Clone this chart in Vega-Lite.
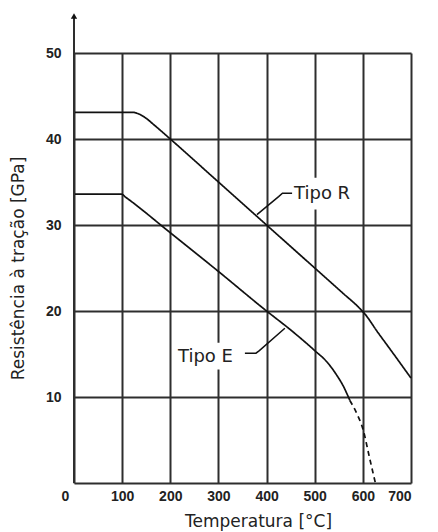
{
  "$schema": "https://vega.github.io/schema/vega-lite/v6.json",
  "width": 337,
  "height": 430,
  "autosize": {"type": "none"},
  "padding": {"left": 74, "top": 53, "right": 27, "bottom": 49},
  "background": "white",
  "config": {"view": {"stroke": null}, "font": "DejaVu Sans"},
  "datasets": {
    "curves": [
      {"serie": "R", "seg": "solid", "temp": 0, "val": 43.1},
      {"serie": "R", "seg": "solid", "temp": 122, "val": 43.1},
      {"serie": "R", "seg": "solid", "temp": 135, "val": 42.9},
      {"serie": "R", "seg": "solid", "temp": 150, "val": 42.4},
      {"serie": "R", "seg": "solid", "temp": 165, "val": 41.7},
      {"serie": "R", "seg": "solid", "temp": 200, "val": 40},
      {"serie": "R", "seg": "solid", "temp": 300, "val": 35},
      {"serie": "R", "seg": "solid", "temp": 400, "val": 30},
      {"serie": "R", "seg": "solid", "temp": 500, "val": 25},
      {"serie": "R", "seg": "solid", "temp": 560, "val": 22},
      {"serie": "R", "seg": "solid", "temp": 590, "val": 20.5},
      {"serie": "R", "seg": "solid", "temp": 605, "val": 19.6},
      {"serie": "R", "seg": "solid", "temp": 630, "val": 17.6},
      {"serie": "R", "seg": "solid", "temp": 660, "val": 15.3},
      {"serie": "R", "seg": "solid", "temp": 700, "val": 12.2},
      {"serie": "E", "seg": "solid", "temp": 0, "val": 33.6},
      {"serie": "E", "seg": "solid", "temp": 98, "val": 33.6},
      {"serie": "E", "seg": "solid", "temp": 108, "val": 33.2},
      {"serie": "E", "seg": "solid", "temp": 200, "val": 29.1},
      {"serie": "E", "seg": "solid", "temp": 300, "val": 24.6},
      {"serie": "E", "seg": "solid", "temp": 400, "val": 20},
      {"serie": "E", "seg": "solid", "temp": 450, "val": 17.8},
      {"serie": "E", "seg": "solid", "temp": 500, "val": 15.4},
      {"serie": "E", "seg": "solid", "temp": 525, "val": 14.1},
      {"serie": "E", "seg": "solid", "temp": 545, "val": 12.6},
      {"serie": "E", "seg": "solid", "temp": 560, "val": 11.2},
      {"serie": "E", "seg": "solid", "temp": 573, "val": 9.6},
      {"serie": "Ed", "seg": "dashed", "temp": 573, "val": 9.6},
      {"serie": "Ed", "seg": "dashed", "temp": 588, "val": 8.0},
      {"serie": "Ed", "seg": "dashed", "temp": 600, "val": 6.3},
      {"serie": "Ed", "seg": "dashed", "temp": 614, "val": 2.9},
      {"serie": "Ed", "seg": "dashed", "temp": 626, "val": 0}
    ],
    "leaders": [
      {"lab": "R", "temp": 453, "val": 33.7},
      {"lab": "R", "temp": 433, "val": 33.7},
      {"lab": "R", "temp": 425, "val": 33.3},
      {"lab": "R", "temp": 380, "val": 31.2},
      {"lab": "E", "temp": 355, "val": 15.1},
      {"lab": "E", "temp": 378, "val": 15.1},
      {"lab": "E", "temp": 385, "val": 15.4},
      {"lab": "E", "temp": 438, "val": 18.0}
    ],
    "labels": [
      {"text": "Tipo R", "temp": 457, "val": 33.6, "temp2": 452, "tempEnd": 582, "lo": 31.8, "hi": 35.5},
      {"text": "Tipo E", "temp": 216, "val": 14.65, "temp2": 211, "tempEnd": 340, "lo": 13.2, "hi": 16.3}
    ],
    "axisline": [
      {"temp": 0, "val": 0, "top": 54.3}
    ]
  },
  "layer": [
    {
      "data": {"name": "labels"},
      "mark": {"type": "rect", "fill": "white", "stroke": null},
      "encoding": {
        "x": {
          "field": "temp2", "type": "quantitative",
          "scale": {"domain": [0, 700], "nice": false, "zero": false},
          "axis": {
            "title": "Temperatura [°C]",
            "values": [0, 100, 200, 300, 400, 500, 600, 700],
            "grid": true, "gridColor": "#2e2e2e", "gridWidth": 2,
            "domain": true, "domainColor": "#2e2e2e", "domainWidth": 2,
            "ticks": false,
            "labelFont": "Liberation Sans", "labelFontSize": 14, "labelFontWeight": "bold",
            "labelColor": "#222", "labelPadding": 6,
            "labelOffset": {"condition": {"test": "datum.value == 0", "value": -13}, "value": 0},
            "titleFont": "DejaVu Sans", "titleFontSize": 17, "titleFontWeight": "normal",
            "titleColor": "#222", "titlePadding": 10, "titleX": 184
          }
        },
        "x2": {"field": "tempEnd"},
        "y": {
          "field": "lo", "type": "quantitative",
          "scale": {"domain": [0, 50], "nice": false},
          "axis": {
            "title": "Resistência à tração [GPa]",
            "values": [10, 20, 30, 40, 50],
            "grid": true, "gridColor": "#2e2e2e", "gridWidth": 2,
            "domain": false,
            "ticks": false,
            "labelFont": "Liberation Sans", "labelFontSize": 14, "labelFontWeight": "bold",
            "labelColor": "#222", "labelPadding": 13,
            "titleFont": "DejaVu Sans", "titleFontSize": 17, "titleFontWeight": "normal",
            "titleColor": "#222", "titlePadding": 18
          }
        },
        "y2": {"field": "hi"}
      }
    },
    {
      "data": {"name": "curves"},
      "mark": {"type": "line", "color": "#111", "strokeWidth": 1.7, "interpolate": "monotone"},
      "encoding": {
        "x": {"field": "temp", "type": "quantitative"},
        "y": {"field": "val", "type": "quantitative"},
        "detail": {"field": "serie", "type": "nominal"},
        "strokeDash": {
          "field": "seg", "type": "nominal",
          "scale": {"domain": ["solid", "dashed"], "range": [[1, 0], [5, 4]]},
          "legend": null
        }
      }
    },
    {
      "data": {"name": "leaders"},
      "mark": {"type": "line", "color": "#111", "strokeWidth": 1.5},
      "encoding": {
        "x": {"field": "temp", "type": "quantitative"},
        "y": {"field": "val", "type": "quantitative"},
        "detail": {"field": "lab", "type": "nominal"}
      }
    },
    {
      "data": {"name": "labels"},
      "mark": {"type": "text", "align": "left", "baseline": "middle", "font": "DejaVu Sans", "fontSize": 18, "color": "#222"},
      "encoding": {
        "x": {"field": "temp", "type": "quantitative"},
        "y": {"field": "val", "type": "quantitative"},
        "text": {"field": "text", "type": "nominal"}
      }
    },
    {
      "data": {"name": "axisline"},
      "mark": {"type": "rule", "color": "#2e2e2e", "strokeWidth": 2, "clip": false},
      "encoding": {
        "x": {"field": "temp", "type": "quantitative"},
        "y": {"field": "val", "type": "quantitative"},
        "y2": {"field": "top"}
      }
    },
    {
      "data": {"name": "axisline"},
      "mark": {"type": "point", "shape": "triangle-up", "filled": true, "color": "#111", "size": 40, "opacity": 1, "clip": false},
      "encoding": {
        "x": {"field": "temp", "type": "quantitative"},
        "y": {"field": "top", "type": "quantitative"}
      }
    }
  ]
}
